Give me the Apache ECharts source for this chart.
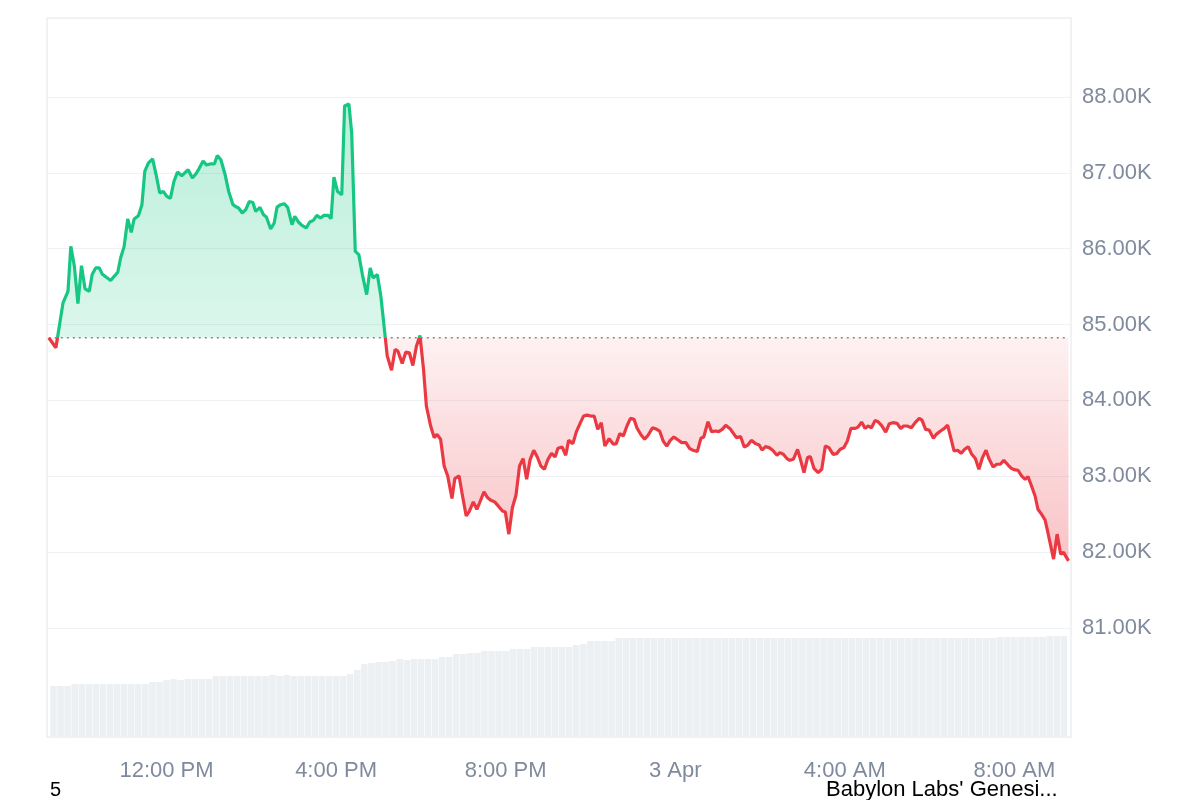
<!DOCTYPE html>
<html>
<head>
<meta charset="utf-8">
<script src="https://cdn.jsdelivr.net/npm/echarts@6/dist/echarts.min.js"></script>
<style>
html,body{margin:0;padding:0;background:#fff;}
#chart{width:1200px;height:800px;}
</style>
</head>
<body>
<div id="chart"></div>
<script>
// ---- data ----
const baseline = 84825;
const startDay = [2025, 3, 2]; // 2 Apr 2025
const times = [
'09:18','09:28','09:38','09:45','09:49','09:54','09:59','10:04','10:09','10:15',
'10:19','10:24','10:29','10:33','10:39','10:45','10:50','10:55','10:59','11:04',
'11:09','11:14','11:18','11:24','11:29','11:33','11:38','11:44','11:49','11:54',
'11:59','12:04','12:09','12:14','12:19','12:25','12:30','12:34','12:40','12:45',
'12:49','12:55','13:00','13:06','13:11','13:15','13:20','13:26','13:31','13:37',
'13:42','13:45','13:50','13:55','14:00','14:05','14:09','14:15','14:20','14:24',
'14:30','14:35','14:39','14:44','14:49','14:54','15:00','15:04','15:09','15:14',
'15:20','15:25','15:30','15:35','15:40','15:45','15:51','15:55','15:59','16:04',
'16:10','16:14','16:20','16:24','16:29','16:34','16:39','16:45','16:50','16:54',
'17:00','17:05','17:14','17:20','17:25','17:29','17:35','17:40','17:45','17:50',
'17:55','18:00','18:05','18:09','18:15','18:20','18:24','18:29','18:34','18:39',
'18:45','18:49','18:55','18:59','19:05','19:09','19:15','19:20','19:24','19:30',
'19:35','19:39','19:45','19:50','19:56','20:00','20:05','20:10','20:15','20:20',
'20:25','20:30','20:35','20:40','20:45','20:50','20:55','21:00','21:05','21:10',
'21:14','21:20','21:25','21:29','21:35','21:40','21:45','21:50','21:55','22:00',
'22:05','22:10','22:15','22:20','22:26','22:32','22:36','22:41','22:46','22:51',
'22:56','23:01','23:05','23:11','23:16','23:21','23:27','23:33','23:37','23:42',
'23:47','23:52','23:57','00:03','00:08','00:14','00:19','00:24','00:30','00:35',
'00:39','00:45','00:50','00:56','01:00','01:05','01:10','01:16','01:20','01:25',
'01:31','01:36','01:41','01:46','01:52','01:57','02:01','02:06','02:11','02:16',
'02:22','02:26','02:31','02:36','02:40','02:45','02:51','02:55','03:00','03:05',
'03:09','03:14','03:20','03:25','03:30','03:35','03:41','03:46','03:51','03:56',
'04:01','04:06','04:12','04:16','04:21','04:26','04:30','04:35','04:40','04:44',
'04:49','04:55','05:00','05:05','05:11','05:16','05:20','05:25','05:31','05:37',
'05:42','05:46','05:51','05:56','06:02','06:06','06:12','06:17','06:22','06:27',
'06:31','06:36','06:41','06:46','06:51','06:56','07:01','07:06','07:11','07:16',
'07:20','07:26','07:31','07:36','07:41','07:47','07:52','07:57','08:01','08:06',
'08:11','08:15','08:20','08:25','08:29','08:34','08:39','08:43','08:47','08:51',
'08:56','09:01','09:05','09:12'
];
const prices = [
84825,84693,85285,85438,86030,85767,85276,85776,85469,85438,
85658,85746,85746,85667,85622,85579,85635,85688,85877,86030,
86391,86214,86391,86434,86579,87017,87127,87184,86973,86733,
86754,86688,86662,86885,87009,86960,87004,87039,86930,86987,
87048,87154,87101,87118,87118,87227,87171,86973,86754,86579,
86548,86535,86469,86513,86622,86609,86490,86543,86447,86417,
86259,86338,86548,86579,86592,86543,86315,86425,86351,86306,
86272,86351,86372,86438,86404,86438,86438,86394,86943,86754,
86710,87881,87908,87522,85964,85921,85658,85394,85746,85614,
85658,85372,84583,84398,84671,84648,84487,84635,84627,84460,
84714,84855,84408,83925,83662,83509,83552,83487,83135,83004,
82706,82969,83004,82785,82477,82530,82662,82565,82654,82793,
82719,82688,82662,82609,82543,82530,82237,82588,82750,83135,
83233,82960,83223,83342,83254,83135,83092,83223,83302,83254,
83368,83385,83276,83473,83430,83588,83693,83793,83806,83793,
83793,83618,83706,83398,83496,83421,83430,83562,83530,83662,
83763,83750,83640,83543,83487,83543,83640,83618,83596,83464,
83398,83473,83517,83477,83443,83443,83368,83342,83325,83500,
83517,83719,83588,83596,83588,83618,83671,83627,83575,83509,
83522,83385,83411,83473,83430,83411,83346,83390,83377,83342,
83276,83311,83289,83233,83210,83223,83355,83223,83048,83246,
83259,83105,83048,83092,83398,83377,83289,83298,83355,83377,
83464,83631,83631,83648,83714,83631,83662,83640,83737,83719,
83671,83583,83693,83706,83697,83627,83662,83662,83640,83714,
83763,83740,83618,83609,83500,83552,83596,83627,83675,83487,
83333,83342,83302,83355,83390,83289,83233,83092,83246,83342,
83233,83122,83158,83158,83210,83148,83101,83083,83079,83004,
82960,82996,82872,82740,82565,82500,82425,82259,82083,81908,
82237,81973,81996,81885
];
// 24h volume, one bar per 10 minutes from 09:20
const volumeStart = '09:20';
const volumeStepMin = 10;
const volumes = [
51,51,51,53,53,53,53,53,53,53,
53,53,53,53,55,55,57,58,57,58,
58,58,58,61,61,61,61,61,61,61,
61,62,61,62,61,61,61,61,61,61,
61,61,63,67,73,74,75,75,76,78,
77,78,78,78,78,80,80,83,83,84,
84,86,86,86,86,88,88,88,90,90,
90,90,90,90,92,93,96,96,96,96,
99,99,99,99,99,99,99,99,99,99,
99,99,99,99,99,99,99,99,99,99,
99,99,99,99,99,99,99,99,99,99,
99,99,99,99,99,99,99,99,99,99,
99,99,99,99,99,99,99,99,99,99,
99,99,99,99,100,100,100,100,100,100,
100,101,101,101
];
const yTicksMin = 81000, yTicksMax = 89000, yTickStep = 1000;
const axisStart = '09:15:30';
const footerLeft = '5';
const footerRight = "Babylon Labs' Genesi...";

// ---- build ----
function toDate(hhmm, dayOffset) {
  const p = hhmm.split(':').map(Number);
  return new Date(startDay[0], startDay[1], startDay[2] + dayOffset, p[0], p[1], p[2] || 0).getTime();
}
let day = 0, prevMin = -1;
const priceData = times.map((t, i) => {
  const p = t.split(':').map(Number);
  const mins = p[0] * 60 + p[1];
  if (mins < prevMin) day += 1;
  prevMin = mins;
  return [toDate(t, day), prices[i]];
});
const xMin = toDate(axisStart, 0);
const xMax = xMin + 24 * 3600 * 1000;
const vStart = toDate(volumeStart, 0);
const volData = volumes.map((v, i) => [vStart + i * volumeStepMin * 60000, v]);
const baseLineData = [[priceData[0][0], baseline], [priceData[priceData.length - 1][0], baseline]];

const GREEN = '#16c784', RED = '#ea3943';
const H = 800;
const priceTop = 21, priceBottomPx = 628;
const basePx = priceTop + (yTicksMax - baseline) / (yTicksMax - yTicksMin) * (priceBottomPx - priceTop);
const bo = basePx / H;
const areaGrad = {
  type: 'linear', x: 0, y: 0, x2: 0, y2: H, global: true,
  colorStops: [
    { offset: 0, color: 'rgba(22,199,132,0.32)' },
    { offset: 0.125, color: 'rgba(22,199,132,0.30)' },
    { offset: bo, color: 'rgba(22,199,132,0.15)' },
    { offset: bo, color: 'rgba(234,57,67,0.07)' },
    { offset: 0.7, color: 'rgba(234,57,67,0.30)' },
    { offset: 1, color: 'rgba(234,57,67,0.32)' }
  ]
};
const lineGrad = {
  type: 'linear', x: 0, y: 0, x2: 0, y2: H, global: true,
  colorStops: [
    { offset: 0, color: GREEN }, { offset: bo, color: GREEN },
    { offset: bo, color: RED }, { offset: 1, color: RED }
  ]
};
const FONT = '"Liberation Sans", Arial, Helvetica, sans-serif';
const LABEL = '#808a9d';

function fmtTime(v) {
  const d = new Date(v);
  const h = d.getHours(), m = d.getMinutes();
  if (m !== 0 || h % 4 !== 0) return '';
  if (h === 0) return d.getDate() + ' Apr';
  const hh = h % 12 === 0 ? 12 : h % 12;
  return hh + ':00 ' + (h < 12 ? 'AM' : 'PM');
}

const chart = echarts.init(document.getElementById('chart'), null, { renderer: 'canvas' });
chart.setOption({
  animation: false,
  backgroundColor: '#ffffff',
  textStyle: { fontFamily: FONT },
  grid: [
    { left: 47, right: 129, top: priceTop, bottom: H - priceBottomPx },
    { left: 47, right: 129, top: 627, bottom: 63 },
    { left: 47, right: 129, top: 18, bottom: 63, show: true, borderColor: '#eceef1', borderWidth: 1.5, backgroundColor: 'transparent' }
  ],
  xAxis: [
    { gridIndex: 0, type: 'time', min: xMin, max: xMax, show: false },
    { gridIndex: 1, type: 'time', min: xMin, max: xMax,
      minInterval: 4 * 3600 * 1000, maxInterval: 4 * 3600 * 1000, splitNumber: 6,
      axisLine: { show: false }, axisTick: { show: false }, splitLine: { show: false },
      axisLabel: { formatter: fmtTime, color: LABEL, fontSize: 22, fontFamily: FONT, margin: 23,
        showMinLabel: false, showMaxLabel: false, hideOverlap: false } },
    { gridIndex: 2, type: 'value', show: false, min: 0, max: 1 }
  ],
  yAxis: [
    { gridIndex: 0, type: 'value', position: 'right', min: yTicksMin, max: yTicksMax, interval: yTickStep,
      axisLine: { show: false }, axisTick: { show: false },
      splitLine: { show: true, showMaxLine: false, lineStyle: { color: '#eff1f4', width: 1 } },
      axisLabel: { color: LABEL, fontSize: 22, fontFamily: FONT, margin: 11, showMaxLabel: false,
        padding: [4, 0, 0, 0],
        formatter: v => v >= yTicksMax ? '' : (v / 1000).toFixed(2) + 'K' } },
    { gridIndex: 1, type: 'value', min: 0, max: 110, show: false },
    { gridIndex: 2, type: 'value', show: false, min: 0, max: 1 }
  ],
  series: [
    {
      type: 'bar', xAxisIndex: 1, yAxisIndex: 1, data: volData,
      barWidth: 6.6, itemStyle: { color: '#edf0f3' }, z: 1
    },
    {
      type: 'line', xAxisIndex: 0, yAxisIndex: 0, data: priceData,
      symbol: 'none', smooth: false, z: 5,
      lineStyle: { width: 3.2, color: lineGrad },
      areaStyle: { origin: baseline, color: areaGrad, opacity: 1 }
    },
    {
      type: 'line', xAxisIndex: 0, yAxisIndex: 0, data: baseLineData,
      symbol: 'none', silent: true, z: 4,
      lineStyle: { type: [2, 4], color: '#888888', width: 1.5 }
    }
  ],
  graphic: [
    { type: 'text', left: 50, top: 780, style: { text: footerLeft, font: '20px ' + FONT, fill: '#000' } },
    { type: 'text', left: 826, top: 779, style: { text: footerRight, font: '22px ' + FONT, fill: '#000' } }
  ]
});
</script>
</body>
</html>
